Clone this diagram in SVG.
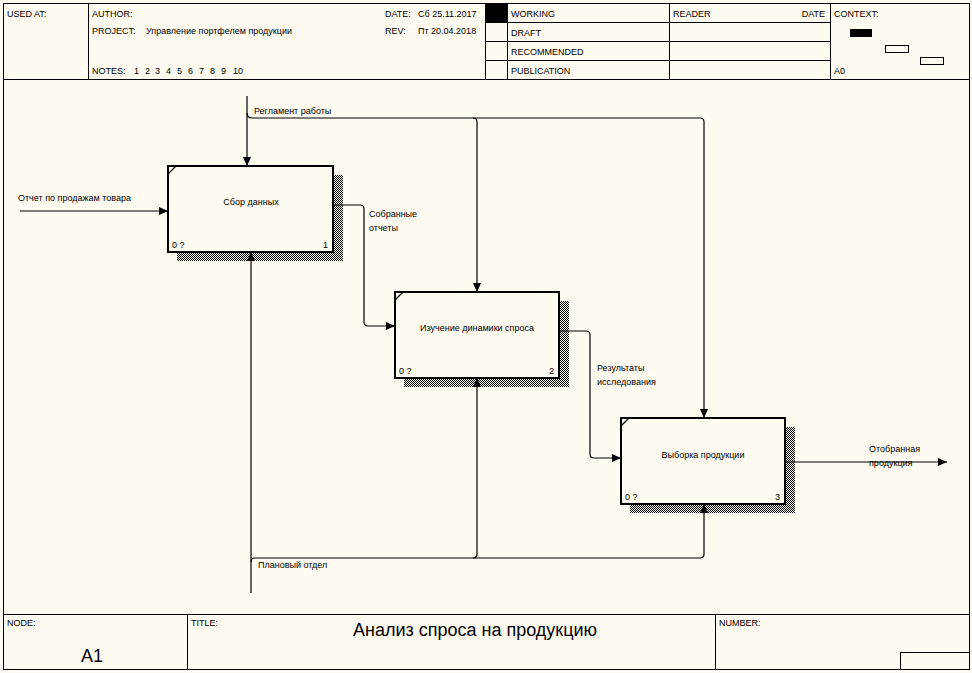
<svg xmlns="http://www.w3.org/2000/svg" width="972" height="673" viewBox="0 0 972 673">
<defs>
<pattern id="hatch" width="2" height="2" patternUnits="userSpaceOnUse"><rect width="1" height="1" fill="#000"/><rect x="1" y="1" width="1" height="1" fill="#000"/></pattern>
<marker id="arr" markerUnits="userSpaceOnUse" markerWidth="10" markerHeight="8" refX="9" refY="4" orient="auto"><path d="M0,0 L9,4 L0,8 z" fill="#000"/></marker>
<style>
text{font-family:"Liberation Sans",Arial,sans-serif;font-size:9px;fill:#000}
.frame{fill:none;stroke:#000;stroke-width:1}
.box{fill:#fffbf0;stroke:#000;stroke-width:2}
.shadow{fill:url(#hatch)}
.con{fill:none;stroke:#000;stroke-width:1.2;marker-end:url(#arr)}
.ln{fill:none;stroke:#000;stroke-width:1.2}
.mid{text-anchor:middle}
.end{text-anchor:end}
</style>
</defs>
<rect width="972" height="673" fill="#fffbf0"/>
<g id="frame">
<rect class="frame" x="3.5" y="3.5" width="966" height="666"/>
<line class="frame" x1="3" y1="79.5" x2="970" y2="79.5"/>
<line class="frame" x1="88.5" y1="3" x2="88.5" y2="79"/>
<line class="frame" x1="485.5" y1="3" x2="485.5" y2="79"/>
<line class="frame" x1="507.5" y1="3" x2="507.5" y2="79"/>
<line class="frame" x1="669.5" y1="3" x2="669.5" y2="79"/>
<line class="frame" x1="830.5" y1="3" x2="830.5" y2="79"/>
<line class="frame" x1="485" y1="22.5" x2="830" y2="22.5"/>
<line class="frame" x1="485" y1="41.5" x2="830" y2="41.5"/>
<line class="frame" x1="485" y1="60.5" x2="830" y2="60.5"/>
<rect x="485" y="3" width="22" height="19" fill="#000"/>
<rect x="850" y="29" width="22" height="8" fill="#000"/>
<rect class="frame" x="885.5" y="45.5" width="23" height="7"/>
<rect class="frame" x="920.5" y="57.5" width="23" height="7"/>
<line class="frame" x1="3" y1="614.5" x2="970" y2="614.5"/>
<line class="frame" x1="187.5" y1="614" x2="187.5" y2="669"/>
<line class="frame" x1="715.5" y1="614" x2="715.5" y2="669"/>
<rect class="frame" x="900.5" y="652.5" width="69" height="17"/>
<text x="7" y="17">USED AT:</text>
<text x="92" y="17">AUTHOR:</text>
<text x="92" y="34">PROJECT:</text>
<text x="146" y="34">Управление портфелем продукции</text>
<text x="92" y="74">NOTES:</text>
<text y="74"><tspan x="134">1</tspan><tspan x="145">2</tspan><tspan x="155">3</tspan><tspan x="166">4</tspan><tspan x="177">5</tspan><tspan x="188">6</tspan><tspan x="199">7</tspan><tspan x="210">8</tspan><tspan x="221">9</tspan><tspan x="233">10</tspan></text>
<text x="385" y="17">DATE:</text>
<text x="418" y="17">Сб 25.11.2017</text>
<text x="385" y="34">REV:</text>
<text x="418" y="34">Пт 20.04.2018</text>
<text x="511" y="17">WORKING</text>
<text x="511" y="36">DRAFT</text>
<text x="511" y="55">RECOMMENDED</text>
<text x="511" y="74">PUBLICATION</text>
<text x="673" y="17">READER</text>
<text x="825" y="17" class="end">DATE</text>
<text x="834" y="17">CONTEXT:</text>
<text x="834" y="74">A0</text>
<text x="7" y="626">NODE:</text>
<text x="191" y="626">TITLE:</text>
<text x="719" y="626">NUMBER:</text>
<text x="475" y="636" class="mid" style="font-size:18px">Анализ спроса на продукцию</text>
<text x="92" y="662" class="mid" style="font-size:18px">A1</text>
</g>
<g id="connectors">
<path class="con" d="M20,211 H168"/>
<path class="con" d="M247,96 V166"/>
<path class="con" d="M247,113 Q247,118 252,118 H473 Q477,118 477,122 V292"/>
<path class="con" d="M473,118 H700 Q704,118 704,122 V418"/>
<path class="con" d="M251,593 V252"/>
<path class="con" d="M251,562 Q251,558 255,558 H473 Q477,558 477,554 V378"/>
<path class="con" d="M473,558 H700 Q704,558 704,554 V504"/>
<path class="con" d="M333,205 H360 Q364,205 364,209 V322 Q364,326 368,326 H395"/>
<path class="con" d="M559,331 H586 Q590,331 590,335 V454 Q590,458 594,458 H621"/>
<path class="con" d="M785,462 H947"/>
<text x="18" y="201">Отчет по продажам товара</text>
<text x="254" y="114">Регламент работы</text>
<text x="258" y="568">Плановый отдел</text>
<text x="369" y="217">Собранные</text>
<text x="369" y="231">отчеты</text>
<text x="597" y="371">Результаты</text>
<text x="597" y="385">исследования</text>
<text x="869" y="452">Отобранная</text>
<text x="869" y="466">продукция</text>
</g>
<g id="node1">
<rect class="shadow" x="177" y="175" width="166" height="86"/>
<rect class="box" x="168" y="166" width="165" height="86"/>
<line class="ln" x1="168" y1="174" x2="176" y2="166" stroke-width="1.5"/>
<text x="251" y="205" class="mid">Сбор данных</text>
<text x="172" y="248">0 ?</text>
<text x="328" y="248" class="end">1</text>
</g>
<g id="node2">
<rect class="shadow" x="404" y="301" width="165" height="86"/>
<rect class="box" x="395" y="292" width="164" height="86"/>
<line class="ln" x1="395" y1="300" x2="403" y2="292" stroke-width="1.5"/>
<text x="477" y="331" class="mid">Изучение динамики спроса</text>
<text x="399" y="374">0 ?</text>
<text x="554" y="374" class="end">2</text>
</g>
<g id="node3">
<rect class="shadow" x="630" y="427" width="165" height="86"/>
<rect class="box" x="621" y="418" width="164" height="86"/>
<line class="ln" x1="621" y1="426" x2="629" y2="418" stroke-width="1.5"/>
<text x="703" y="458" class="mid">Выборка продукции</text>
<text x="625" y="500">0 ?</text>
<text x="780" y="500" class="end">3</text>
</g>
</svg>
